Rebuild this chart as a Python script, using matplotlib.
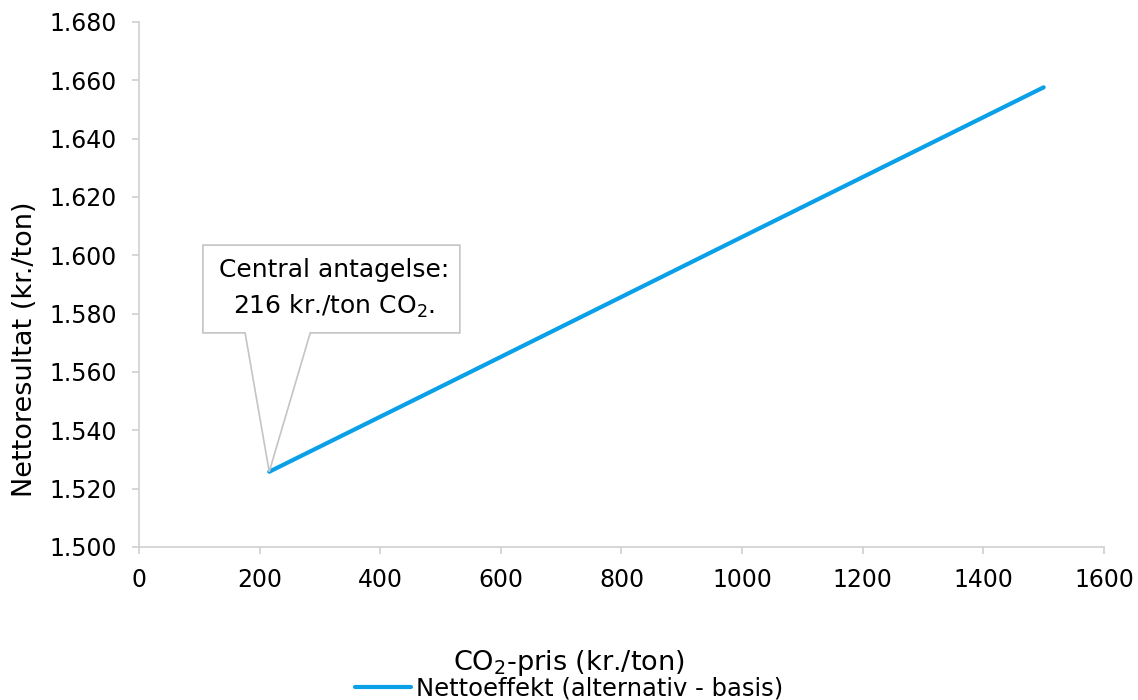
#!/usr/bin/env python3
"""Nettoresultat vs CO2-pris, with callout for the central assumption."""

import matplotlib
matplotlib.use("Agg")
import matplotlib.pyplot as plt
from matplotlib.patches import Polygon
from matplotlib.ticker import FuncFormatter

CO2_PRICE = [216, 500, 1000, 1500]
NET_RESULT = [1525.8, 1554.9, 1606.3, 1657.6]
SERIES_LABEL = "Nettoeffekt (alternativ - basis)"
CENTRAL_PRICE = 216
CENTRAL_VALUE = 1525.8

LINE_COLOR = "#0AA0E8"
AXIS_COLOR = "#D0D0D0"


def thousands(v, _pos):
    return f"{v:,.0f}".replace(",", ".")


def main() -> None:
    plt.rcParams.update({"font.family": "DejaVu Sans", "font.size": 17})

    fig = plt.figure(figsize=(11.38, 7.0), dpi=100, facecolor="white")
    ax = fig.add_axes([0.1221, 0.2186, 0.848, 0.75])

    ax.plot(CO2_PRICE, NET_RESULT, color=LINE_COLOR, linewidth=3.0,
            solid_capstyle="round", label=SERIES_LABEL, zorder=3)

    ax.set_xlim(0, 1600)
    ax.set_ylim(1500, 1680)
    ax.set_xticks(range(0, 1601, 200))
    ax.set_yticks(range(1500, 1681, 20))
    ax.yaxis.set_major_formatter(FuncFormatter(thousands))

    for side in ("top", "right"):
        ax.spines[side].set_visible(False)
    for side in ("left", "bottom"):
        ax.spines[side].set_color(AXIS_COLOR)
        ax.spines[side].set_linewidth(1.2)
    ax.tick_params(axis="both", colors=AXIS_COLOR, length=5, width=1.2,
                   labelcolor="black", labelsize=17)
    ax.tick_params(axis="y", pad=11)
    ax.tick_params(axis="x", pad=10)

    ax.set_ylabel("Nettoresultat (kr./ton)", fontsize=19.5, va="center")
    ax.yaxis.set_label_coords(-0.118, 0.377)
    fig.text(0.5, 0.053, "CO$_2$-pris (kr./ton)", ha="center", va="center", fontsize=19.5)

    # callout box with pointer to the central assumption
    callout = Polygon(
        [(106, 1603.5), (532, 1603.5), (532, 1573.4), (284, 1573.4),
         (CENTRAL_PRICE, CENTRAL_VALUE), (176, 1573.4), (106, 1573.4)],
        closed=True, facecolor="white", edgecolor="#C4C4C4", linewidth=1.2, zorder=4,
    )
    ax.add_patch(callout)
    ax.text(324, 1588.5, "Central antagelse:\n216 kr./ton CO$_2$.", ha="center",
            va="center", fontsize=18, linespacing=1.5, zorder=5)

    fig.legend(loc="center", bbox_to_anchor=(0.5, 0.017), frameon=False, fontsize=17.5,
               handlelength=2.3, handletextpad=0.2, borderaxespad=0)

    fig.savefig("out.png", dpi=100, facecolor="white")


if __name__ == "__main__":
    main()
